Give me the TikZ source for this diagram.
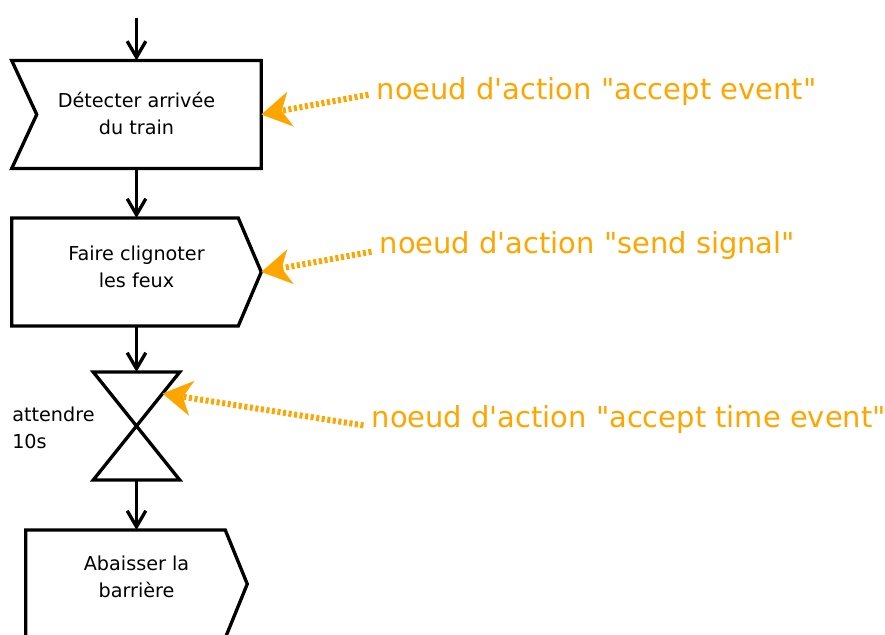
\documentclass[tikz,border=0pt]{standalone}
\usepackage{fontspec}
\setmainfont{DejaVu Sans}
\newfontfamily\notefont{DejaVu Sans}
\usetikzlibrary{arrows.meta,calc}
\definecolor{noteorange}{RGB}{255,165,0}
\begin{document}
\begin{tikzpicture}[x=0.75pt, y=-0.75pt,
    actbox/.style={rectangle, inner sep=0pt, minimum width=#1*0.75pt, minimum height=80.6pt},
    acttext/.style={font=\fontsize{14.4}{20.25}\selectfont, align=center, inner sep=0pt},
    outline/.style={draw=black, line width=2.5pt, line join=miter},
    flow/.style={draw=black, line width=2.5pt, -{Straight Barb[length=12pt,width=14pt]}},
    note/.style={font=\notefont\fontsize{21.7}{26}\selectfont, text=noteorange, anchor=base west, inner xsep=3pt, inner ysep=0pt},
    notearrow/.style={draw=noteorange, line width=4.5pt, dash pattern=on 2.3pt off 1.9pt, shorten <=3pt, -{Stealth[length=22pt,width=26pt,inset=6.5pt]}}]
  \useasboundingbox (0,0) rectangle (885,635);

  % action nodes
  \node[actbox=249] (detect) at (136.5,114.5) {};
  \node[actbox=249] (flash) at (136.5,272) {};
  \node[actbox=86] (wait) at (136.5,426) {};
  \node[actbox=221] (lower) at (136.5,584) {};
  \draw[outline] (detect.north west) -- (detect.north east) -- (detect.south east) -- (detect.south west) -- ($(detect.west)+(25,0)$) -- cycle;
  \draw[outline] (flash.north west) -- ($(flash.north east)+(-23,0)$) -- (flash.east) -- ($(flash.south east)+(-23,0)$) -- (flash.south west) -- cycle;
  \draw[outline] (wait.north west) -- (wait.north east) -- (wait.south west) -- (wait.south east) -- cycle;
  \draw[outline] (lower.north west) -- ($(lower.north east)+(-22,0)$) -- (lower.east) -- ($(lower.south east)+(-22,0)$) -- (lower.south west) -- cycle;

  \node[acttext] (detecttxt) at ([yshift=1pt]detect) {Détecter arrivée\\du train};
  \node[acttext] (flashtxt) at ([yshift=4pt]flash) {Faire clignoter\\les feux};
  \node[acttext, align=left, anchor=west] (waittxt) at (12,428) {attendre\\10s};
  \node[acttext] (lowertxt) at ([yshift=5pt]lower) {Abaisser la\\barrière};

  \coordinate (start) at (136.5,18);
  \foreach \a/\b in {start/detect, detect/flash, flash/wait, wait/lower}
    \draw[flow] (\a) -- (\b);

  % annotations
  \coordinate (waittip) at ($(wait.north east)!0.4!(wait.center)$);
  \node[note] (noteaccept) at (372.4,99.5) {noeud d'action "accept event"};
  \node[note] (notesend) at (375.4,253) {noeud d'action "send signal"};
  \node[note] (notetime) at (367.4,427) {noeud d'action "accept time event"};
  \foreach \nm/\tgt/\dy in {noteaccept/detect.east/5.5, notesend/flash.east/2, notetime/waittip/1}
    \draw[notearrow] ([yshift=\dy*0.75pt]\nm.base west) -- (\tgt);
\end{tikzpicture}
\end{document}
